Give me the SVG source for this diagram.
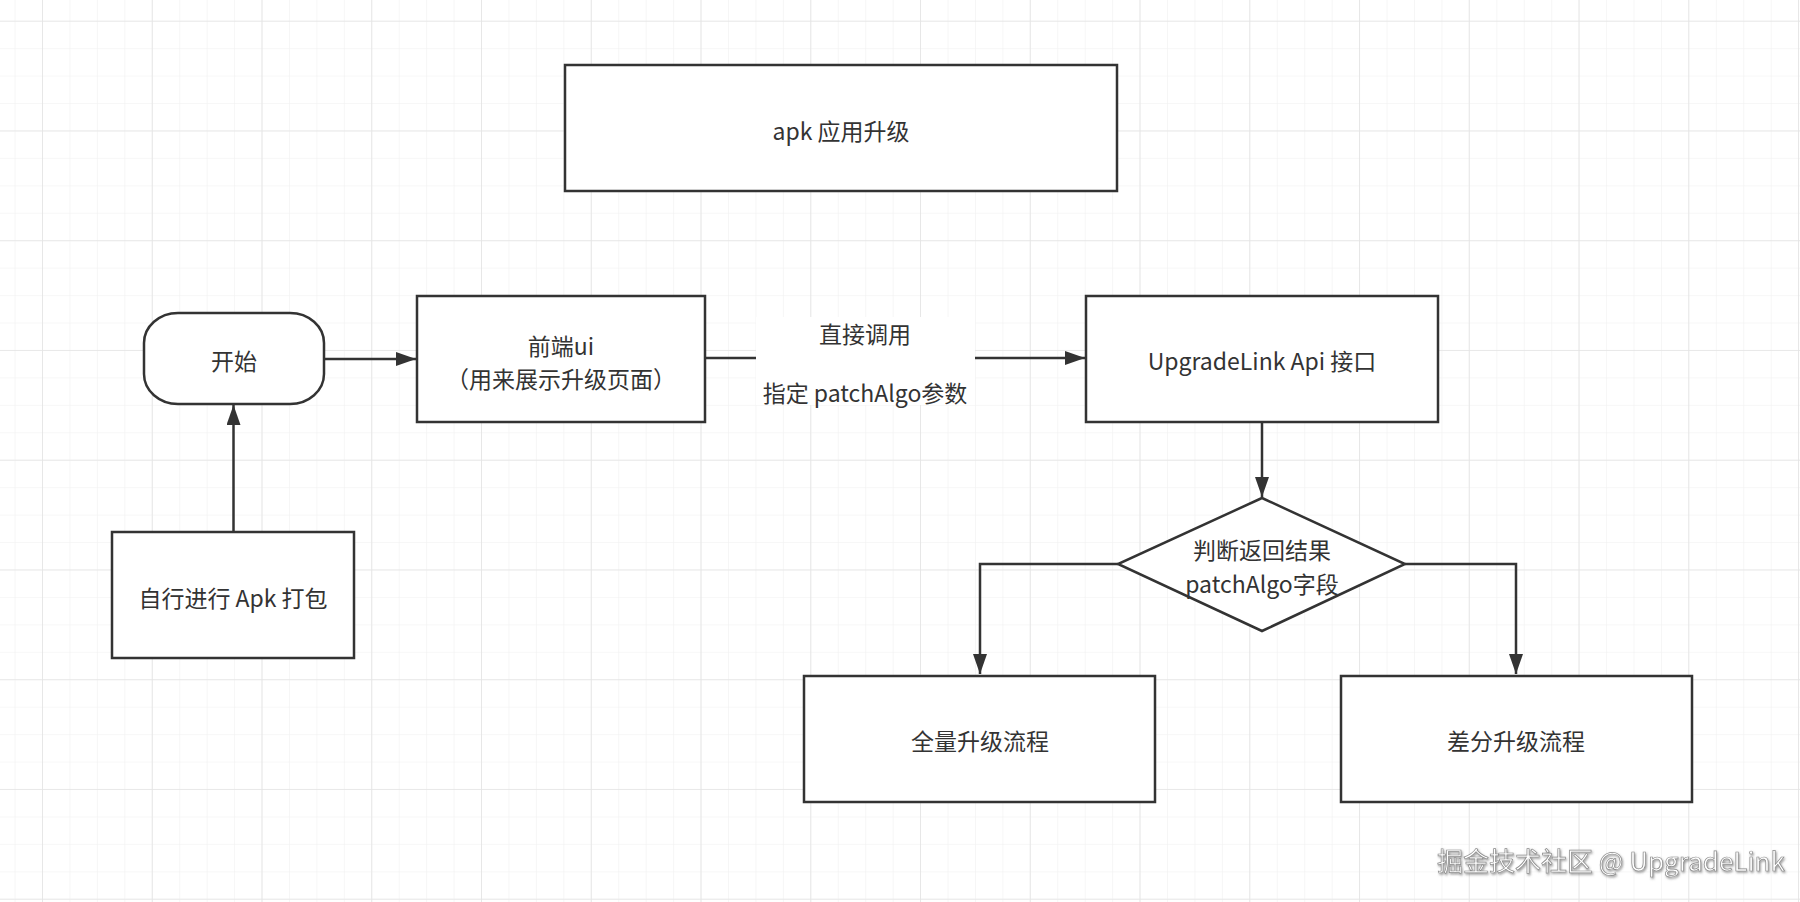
<svg xmlns="http://www.w3.org/2000/svg" width="1800" height="902" viewBox="0 0 1800 902">
  <style>
    .node { fill: #ffffff; stroke: #333333; stroke-width: 2.5; }
    .txt { font-family: "Noto Sans CJK SC", "Noto Sans", sans-serif; font-size: 23px; fill: #333333; text-anchor: middle; dominant-baseline: central; }
    .edge { fill: none; stroke: #333333; stroke-width: 2.5; }
    .wm { font-family: "Noto Sans CJK SC", "Noto Sans", sans-serif; font-size: 26px; fill: #ffffff; stroke: #8a8a8a; stroke-width: 0.7; text-anchor: start; }
  </style>
  <defs>
    <pattern id="minor" patternUnits="userSpaceOnUse" x="42" y="20.7" width="27.44" height="27.44">
      <path d="M 0 0 L 0 27.44 M 0 0 L 27.44 0" fill="none" stroke="#f0f0f0" stroke-width="1.2"/>
    </pattern>
    <pattern id="major" patternUnits="userSpaceOnUse" x="42" y="20.7" width="109.75" height="109.75">
      <path d="M 0 0 L 0 109.75 M 0 0 L 109.75 0" fill="none" stroke="#e4e4e4" stroke-width="1.7"/>
    </pattern>
    <marker id="arrow" viewBox="0 0 20 14" refX="20" refY="7" markerWidth="20" markerHeight="14" markerUnits="userSpaceOnUse" orient="auto">
      <path d="M 0 0 L 20 7 L 0 14 Z" fill="#333333"/>
    </marker>
    <filter id="shadow" x="-5%" y="-30%" width="110%" height="160%">
      <feDropShadow dx="1" dy="1.5" stdDeviation="0.8" flood-color="#555555" flood-opacity="0.6"/>
    </filter>
  </defs>

  <rect x="0" y="0" width="1800" height="902" fill="#ffffff"/>
  <rect x="0" y="0" width="1800" height="902" fill="url(#minor)"/>
  <rect x="0" y="0" width="1800" height="902" fill="url(#major)"/>

  <g id="connectors">
    <line class="edge" x1="233.5" y1="532" x2="233.5" y2="405" marker-end="url(#arrow)"/>
    <line class="edge" x1="324" y1="359" x2="416" y2="359" marker-end="url(#arrow)"/>
    <line class="edge" x1="705" y1="358" x2="1085" y2="358" marker-end="url(#arrow)"/>
    <line class="edge" x1="1262" y1="422" x2="1262" y2="497" marker-end="url(#arrow)"/>
    <polyline class="edge" points="1118,564 980,564 980,674" marker-end="url(#arrow)"/>
    <polyline class="edge" points="1405,564 1516,564 1516,674" marker-end="url(#arrow)"/>
    <g id="edge-label">
      <rect x="756" y="317" width="219" height="88" fill="#ffffff"/>
      <text class="txt" x="865" y="333">直接调用</text>
      <text class="txt" x="865" y="392">指定 patchAlgo参数</text>
    </g>
  </g>

  <g id="title">
    <rect class="node" x="565" y="65" width="552" height="126"/>
    <text class="txt" x="841" y="130">apk 应用升级</text>
  </g>

  <g id="start">
    <rect class="node" x="144" y="313" width="180" height="91" rx="34" ry="30"/>
    <text class="txt" x="234" y="360">开始</text>
  </g>

  <g id="frontend">
    <rect class="node" x="417" y="296" width="288" height="126"/>
    <text class="txt" x="561" y="345">前端ui</text>
    <text class="txt" x="561" y="378">（用来展示升级页面）</text>
  </g>

  <g id="build">
    <rect class="node" x="112" y="532" width="242" height="126"/>
    <text class="txt" x="233" y="597">自行进行 Apk 打包</text>
  </g>

  <g id="api">
    <rect class="node" x="1086" y="296" width="352" height="126"/>
    <text class="txt" x="1262" y="360">UpgradeLink Api 接口</text>
  </g>

  <g id="decision">
    <polygon class="node" points="1262,498 1405,564 1262,631 1118,564"/>
    <text class="txt" x="1262" y="549">判断返回结果</text>
    <text class="txt" x="1262" y="583">patchAlgo字段</text>
  </g>

  <g id="full">
    <rect class="node" x="804" y="676" width="351" height="126"/>
    <text class="txt" x="980" y="740">全量升级流程</text>
  </g>

  <g id="diff">
    <rect class="node" x="1341" y="676" width="351" height="126"/>
    <text class="txt" x="1516" y="740">差分升级流程</text>
  </g>

  <text class="wm" x="1437" y="871" filter="url(#shadow)">掘金技术社区 @ UpgradeLink</text>
</svg>
